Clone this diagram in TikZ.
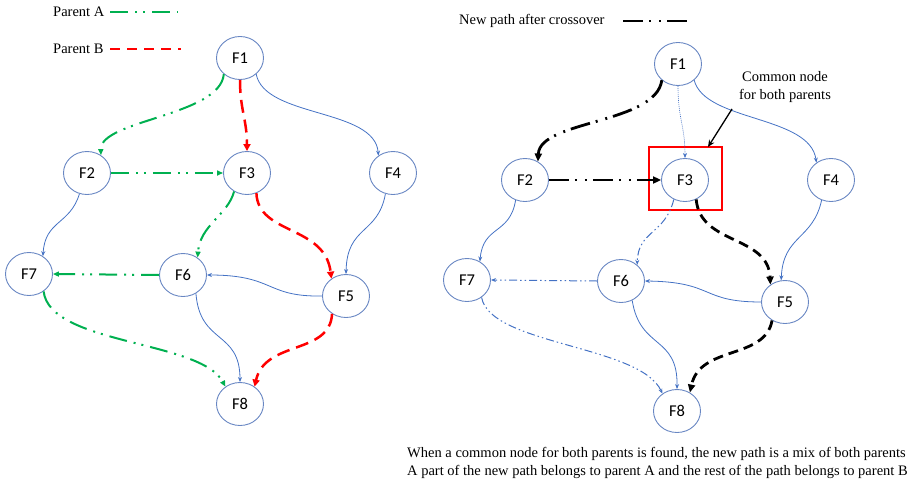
\documentclass[tikz,border=0pt]{standalone}
\usepackage{fontspec}
\setmainfont{Liberation Serif}
\newfontfamily\nodefont{Carlito}
\usetikzlibrary{shapes.geometric,arrows.meta}
\definecolor{nodeblue}{RGB}{105,135,195}
\definecolor{edgeblue}{RGB}{68,114,196}
\definecolor{pgreen}{RGB}{0,176,80}
\definecolor{pred}{RGB}{255,0,0}
\tikzset{
  fnode/.style={ellipse, draw=nodeblue, line width=0.9pt, minimum width=47pt, minimum height=43pt, inner sep=0pt, font=\nodefont\fontsize{16.5}{18}\selectfont},
  txt/.style={font=\fontsize{14.5}{18}\selectfont, inner sep=0pt},
  blueedge/.style={draw=edgeblue, line width=0.8pt, -{Stealth[length=5pt,width=4pt]}},
  bluedot/.style={draw=edgeblue, line width=0.6pt, dash pattern=on 1pt off 1pt, -{Stealth[length=5pt,width=4pt]}},
  bluedd/.style={draw=edgeblue, line width=1pt, dash pattern=on 8pt off 3pt on 1.5pt off 3pt on 1.5pt off 3pt, -{Stealth[length=5pt,width=4pt]}},
  greenedge/.style={draw=pgreen, line width=2pt, dash pattern=on 18pt off 7pt on 2pt off 6pt on 2pt off 7pt, -{Triangle[length=6pt,width=5pt]}},
  greenline/.style={draw=pgreen, line width=2pt, dash pattern=on 18pt off 7pt on 2pt off 6pt on 2pt off 7pt},
  rededge/.style={draw=pred, line width=2.5pt, dash pattern=on 13pt off 7pt, -{Triangle[length=7pt,width=7pt]}},
  redline/.style={draw=pred, line width=2.5pt, dash pattern=on 10pt off 7pt},
  blackdd/.style={draw=black, line width=2.8pt, dash pattern=on 20pt off 6pt on 2pt off 8pt on 2pt off 6pt, -{Triangle[length=8pt,width=7pt]}},
  blackline/.style={draw=black, line width=2.8pt, dash pattern=on 20pt off 6pt on 2pt off 8pt on 2pt off 6pt},
  blackdash/.style={draw=black, line width=2.8pt, dash pattern=on 10pt off 6pt, -{Triangle[length=8pt,width=7pt]}},
}
\begin{document}
\begin{tikzpicture}[x=1pt,y=-1pt]
\useasboundingbox (0,0) rectangle (911,482);

% ---------- legends ----------
\node[txt, anchor=west] (la) at (53,12) {Parent A};
\coordinate (la2) at (178,12);
\draw[greenline] (110,12) coordinate (la1) -- (la2);
\node[txt, anchor=west] (lb) at (53,49) {Parent B};
\coordinate (lb2) at (181,49);
\draw[redline] (110,49) coordinate (lb1) -- (lb2);
\node[txt, anchor=west] (lc) at (459,21) {New path after crossover};
\coordinate (lc2) at (689,21);
\draw[blackline] (623,21) coordinate (lc1) -- (lc2);

% ---------- left graph ----------
\node[fnode] (L1) at (240,58) {F1};
\node[fnode] (L2) at (87,173) {F2};
\node[fnode] (L3) at (247,173) {F3};
\node[fnode] (L4) at (393,173) {F4};
\node[fnode] (L5) at (346,296) {F5};
\node[fnode] (L6) at (183,275) {F6};
\node[fnode] (L7) at (29,274) {F7};
\node[fnode] (L8) at (240,404) {F8};

\draw[greenedge] (L1.225) .. controls (220,116) and (100,120) .. (L2.52);
\draw[rededge] (L1.south) .. controls (240,110) and (247,120) .. (L3.north);
\draw[blueedge] (L1.-45) .. controls (265,118) and (375,108) .. (L4.130);
\draw[greenedge] (L2.east) -- (L3.west);
\draw[blueedge] (L2.250) .. controls (70,225) and (45,220) .. (L7.52);
\draw[greenedge] (L3.235) .. controls (228,215) and (200,225) .. (L6.50);
\draw[rededge] (L3.-65) .. controls (258,235) and (325,225) .. (L5.130);
\draw[blueedge] (L4.250) .. controls (378,235) and (347,225) .. (L5.north);
\draw[blueedge] (L5.west) .. controls (265,297) and (275,275) .. (L6.east);
\draw[greenedge] (L6.west) -- (L7.east);
\draw[blueedge] (L6.-55) .. controls (200,345) and (240,330) .. (L8.north);
\draw[greenedge] (L7.-50) .. controls (50,345) and (200,340) .. (L8.130);
\draw[rededge] (L5.232) .. controls (330,355) and (265,340) .. (L8.50);

% ---------- right graph ----------
\node[fnode] (R1) at (678,64) {F1};
\node[fnode] (R2) at (525,180) {F2};
\node[fnode] (R3) at (685,180) {F3};
\node[fnode] (R4) at (831,180) {F4};
\node[fnode] (R5) at (785,302) {F5};
\node[fnode] (R6) at (621,281) {F6};
\node[fnode] (R7) at (467,280) {F7};
\node[fnode] (R8) at (677,411) {F8};

\node[draw=pred, line width=2pt, minimum width=73pt, minimum height=63pt, inner sep=0pt] (box) at (685.5,178.5) {};

\draw[blackdd] (R1.225) .. controls (656,124) and (540,120) .. (R2.55);
\draw[bluedot] (R1.south) .. controls (678,120) and (685,125) .. (R3.north);
\draw[blueedge] (R1.-45) .. controls (705,122) and (810,115) .. (R4.130);
\draw[blackdd] (R2.east) -- (R3.west);
\draw[blueedge] (R2.245) .. controls (510,235) and (483,225) .. (R7.55);
\draw[bluedd] (R3.240) .. controls (665,235) and (638,230) .. (R6.45);
\draw[blackdash] (R3.-60) .. controls (700,245) and (768,235) .. (R5.130);
\draw[blueedge] (R4.245) .. controls (813,240) and (783,235) .. (R5.100);
\draw[blueedge] (R5.west) .. controls (700,302) and (715,282) .. (R6.east);
\draw[bluedd] (R6.west) -- (R7.east);
\draw[blueedge] (R6.-60) .. controls (640,350) and (678,335) .. (R8.north);
\draw[bluedd] (R7.-50) .. controls (490,345) and (640,345) .. (R8.130);
\draw[blackdash] (R5.235) .. controls (765,360) and (700,345) .. (R8.55);

% ---------- annotation ----------
\node[txt, align=center] (cn) at (785,87) {Common node\\for both parents};
\coordinate (cnA) at (732,109);
\coordinate (cnB) at (708,147);
\draw[black, line width=1.3pt, -{Stealth[length=7pt,width=6pt]}] (cnA) -- (cnB);

\node[txt, align=left, anchor=west] (note) at (407,463) {When a common node for both parents is found, the new path is a mix of both parents\\A part of the new path belongs to parent A and the rest of the path belongs to parent B};
\end{tikzpicture}
\end{document}
